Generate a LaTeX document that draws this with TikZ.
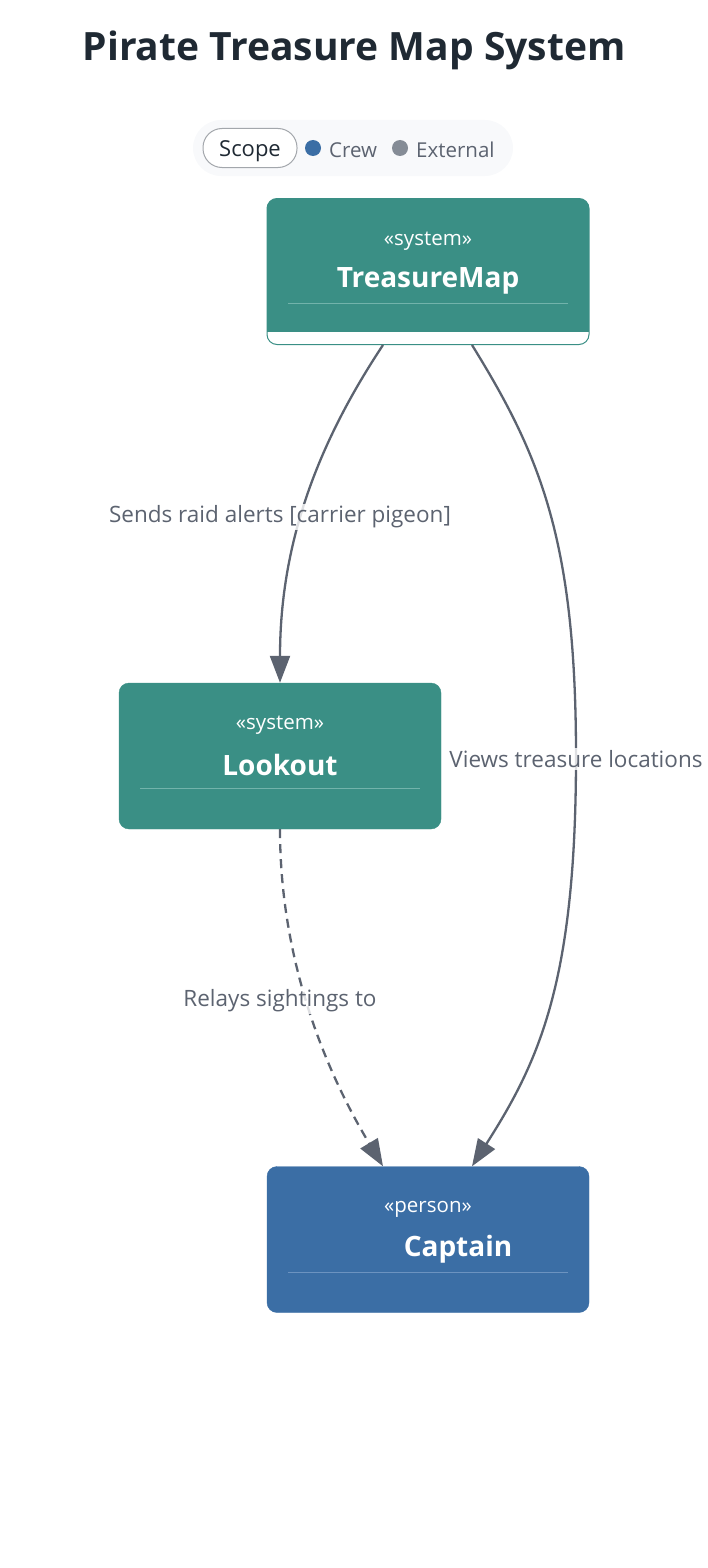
\documentclass[tikz,border=0pt]{standalone}
\usepackage{fontspec}
\setmainfont{Open Sans}
\usetikzlibrary{arrows.meta}
\definecolor{tmteal}{HTML}{3A8F85}
\definecolor{tmtealline}{HTML}{72B3AB}
\definecolor{tmblue}{HTML}{3B6EA5}
\definecolor{tmblueline}{HTML}{6C93C0}
\definecolor{tmgray}{HTML}{858C96}
\definecolor{tmline}{HTML}{5C6370}
\definecolor{tmtitle}{HTML}{1F2933}
\definecolor{tmlegend}{HTML}{F8F9FB}
\definecolor{tmpill}{HTML}{A3A7AC}
\begin{document}
\begin{tikzpicture}[x=1pt, y=-1pt,
  tmbox/.style = {rounded corners=10pt, minimum width=322pt, minimum height=146pt, inner sep=0pt},
  tmsys/.style = {tmbox, fill=tmteal, draw=tmteal},
  tmperson/.style = {tmbox, fill=tmblue, draw=tmblue},
  tmstereo/.style = {text=white, font=\fontsize{20.5}{24}\selectfont},
  tmname/.style = {text=white, font=\bfseries\fontsize{28}{32}\selectfont},
  tmedge/.style = {-{Triangle[length=27pt,width=20pt]}, line width=2.3pt, tmline},
  tmlbl/.style = {text=tmline, font=\fontsize{22.5}{26}\selectfont, fill=white, fill opacity=0.8, text opacity=1, inner sep=2pt},
  tmkey/.style = {text=tmline, font=\fontsize{20.5}{24}\selectfont, anchor=west, inner sep=0pt},
  tmdot/.style = {circle, inner sep=0pt, minimum size=16pt}
]
  \useasboundingbox (0,0) rectangle (708,1568);
  % title
  \node[text=tmtitle, font=\bfseries\fontsize{39}{44}\selectfont] (title) at (354,50) {Pirate Treasure Map System};
  % legend
  \node[fill=tmlegend, rounded corners=28pt, minimum width=320pt, minimum height=56pt] (legend) at (353,148) {};
  \node[draw=tmpill, line width=1pt, fill=white, rounded corners=19pt, minimum width=94pt, minimum height=39pt,
    text height=19pt, text depth=3pt, text=tmtitle, font=\fontsize{22}{26}\selectfont] (scope) at (250,148) {Scope};
  \node[tmdot, fill=tmblue] (crewdot) at (313,148) {};
  \node[tmkey] (crew) at (329,150) {Crew};
  \node[tmdot, fill=tmgray] (extdot) at (400,148) {};
  \node[tmkey] (ext) at (416,150) {External};
  % systems and person
  \node[tmbox, fill=white, draw=tmteal, line width=1pt,
    path picture={\fill[tmteal, sharp corners] (path picture bounding box.north west) rectangle ([yshift=13pt]path picture bounding box.south east);}]
    (map) at (428,271.5) {};
  \node[tmstereo] (mapst) at (428,241) {«system»};
  \node[tmname] (mapname) at (428,281) {TreasureMap};
  \draw[tmtealline, line width=1pt] (288,303) -- (568,303);
  \node[tmsys] (look) at (280,756) {};
  \node[tmstereo] (lookst) at (280,725) {«system»};
  \node[tmname] (lookname) at (280,765) {Lookout};
  \draw[tmtealline, line width=1pt] (140,788) -- (420,788);
  \node[tmperson] (cap) at (428,1239.5) {};
  \node[tmstereo] (capst) at (428,1209) {«person»};
  \node[tmname] (capname) at (458,1249) {Captain};
  \draw[tmblueline, line width=1pt] (288,1272) -- (568,1272);
  % relations
  \draw[tmedge] ([xshift=-45pt]map.south) .. controls (320,440) and (280,540) .. (look.north);
  \node[tmlbl] (l1) at (280,517) {Sends raid alerts [carrier pigeon]};
  \draw[tmedge] ([xshift=44pt]map.south) .. controls (540,455) and (576,540) .. (576,756)
    .. controls (576,980) and (540,1060) .. ([xshift=44pt]cap.north);
  \node[tmlbl] (l2) at (576,759) {Views treasure locations};
  \draw[tmedge, dash pattern=on 9pt off 6pt] (look.south) .. controls (280,960) and (325,1070) .. ([xshift=-45pt]cap.north);
  \node[tmlbl] (l3) at (280,1001) {Relays sightings to};
\end{tikzpicture}
\end{document}
